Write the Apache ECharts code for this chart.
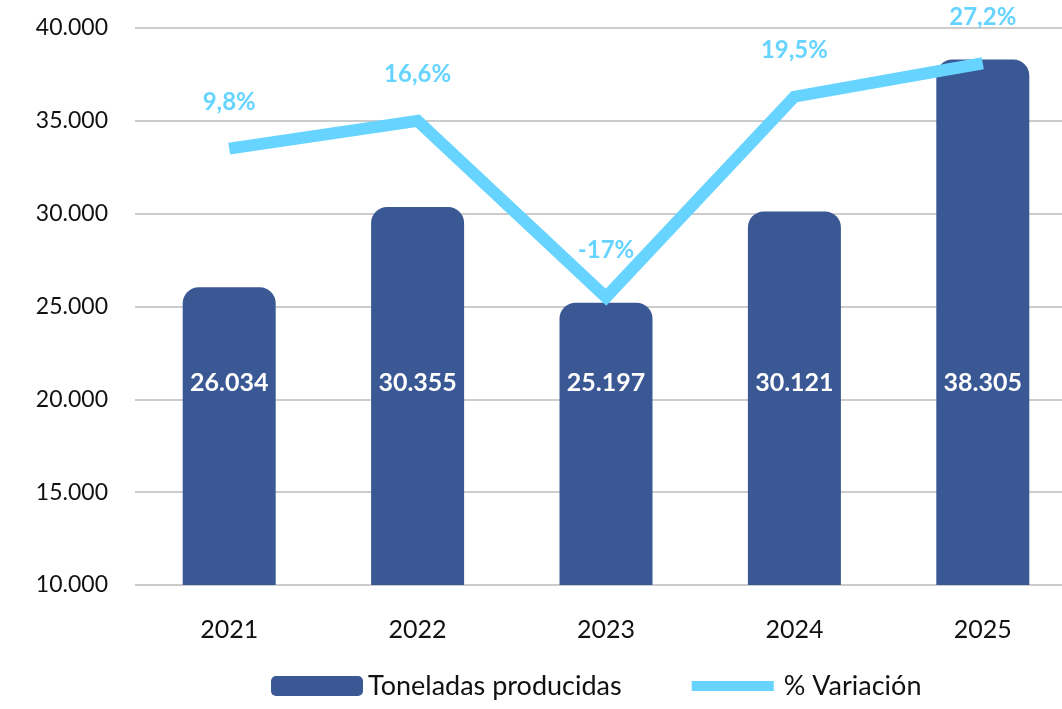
<!DOCTYPE html>
<html><head><meta charset="utf-8">
<script src="https://cdn.jsdelivr.net/npm/echarts@6/dist/echarts.min.js"></script>
<style>html,body{margin:0;padding:0;background:#fff}#c{width:1062px;height:709px}</style>
</head><body><div id="c"></div>
<script>
const categories = ['2021','2022','2023','2024','2025'];
const toneladas = [26034, 30355, 25197, 30121, 38305];
const variacionLabels = ['9,8%','16,6%','-17%','19,5%','27,2%'];
// vertical position of the variation line as drawn in the reference (in bar-axis units)
const variacionLevel = [33500, 35000, 25500, 36300, 38100];
const yTicks = [10000, 15000, 20000, 25000, 30000, 35000, 40000];

const fmt = v => String(v).replace(/\B(?=(\d{3})+(?!\d))/g, '.');
const font = 'Lato, "Open Sans", sans-serif';
const chart = echarts.init(document.getElementById('c'));
chart.setOption({
  animation: false,
  textStyle: {fontFamily: font},
  grid: {left: 135, width: 942, top: 28, bottom: 124, containLabel: false, outerBoundsMode: 'none'},
  legend: {
    bottom: 3, left: 266, itemGap: 60,
    textStyle: {fontSize: 27, color: '#111', fontFamily: font},
    data: [
      {name: 'Toneladas producidas', icon: 'roundRect', itemStyle: {color: '#3A5894'}},
      {name: '% Variación', icon: 'roundRect',
        itemStyle: {color: '#66D4FF', opacity: 1, borderColor: '#fff', borderWidth: 10}}
    ],
    itemWidth: 92, itemHeight: 20
  },
  xAxis: {
    type: 'category', data: categories,
    axisLine: {show: false}, axisTick: {show: false},
    axisLabel: {fontSize: 25, color: '#111', margin: 32}
  },
  yAxis: {
    type: 'value', min: yTicks[0], max: yTicks[yTicks.length-1], interval: 5000,
    axisLine: {show: false}, axisTick: {show: false},
    axisLabel: {fontSize: 23, color: '#111', margin: 27, formatter: v => fmt(v)},
    splitLine: {lineStyle: {color: '#CCCCCC', width: 2}}
  },
  series: [
    {
      name: 'Toneladas producidas', type: 'bar', data: toneladas, barWidth: 93,
      itemStyle: {color: '#3A5894', borderRadius: [16,16,0,0]},
      label: {show: true, position: 'insideBottom', distance: 190, color: '#fff',
        fontSize: 25, fontWeight: 'bold', formatter: p => fmt(p.value)}
    },
    {
      name: '% Variación', type: 'line', data: variacionLevel,
      symbol: 'circle', symbolSize: 1, showSymbol: true,
      lineStyle: {color: '#66D4FF', width: 12, cap: 'butt', join: 'miter'},
      itemStyle: {color: '#66D4FF', opacity: 0},
      label: {show: true, position: 'top', distance: 34, color: '#66D4FF', opacity: 1,
        fontSize: 24, fontWeight: 'bold', formatter: p => variacionLabels[p.dataIndex]}
    }
  ]
});
</script></body></html>
